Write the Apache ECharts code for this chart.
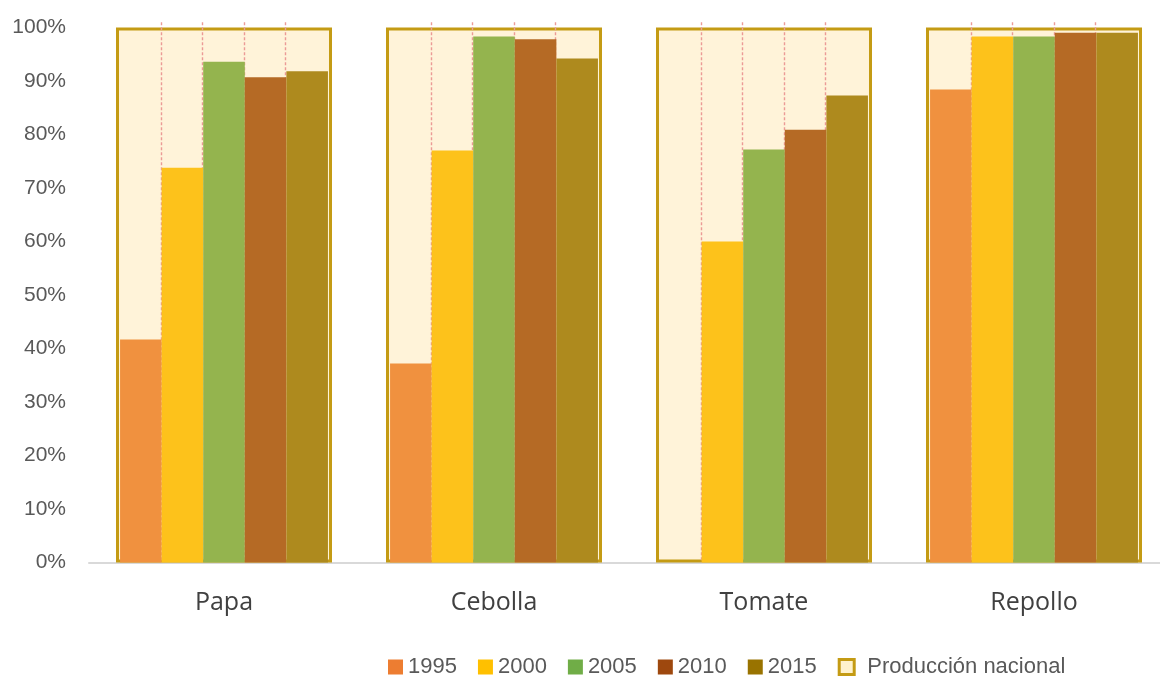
<!DOCTYPE html>
<html>
<head>
<meta charset="utf-8">
<script src="https://cdn.jsdelivr.net/npm/echarts@6/dist/echarts.min.js"></script>
<style>
  html, body { margin: 0; padding: 0; background: #fff; overflow: hidden; }
  /* the plot runs slightly past the right edge of the window */
  #chart { width: 1170px; height: 677px; }
</style>
</head>
<body>
<div id="chart"></div>
<script>
// Share (%) of supply by crop and year
const categories = ['Papa', 'Cebolla', 'Tomate', 'Repollo'];
const years = ['1995', '2000', '2005', '2010', '2015'];
const v1995 = [41.7, 37.2, 0, 88.4];
const v2000 = [73.8, 77.0, 60.0, 98.3];
const v2005 = [93.6, 98.3, 77.2, 98.3];
const v2010 = [90.7, 97.8, 80.9, 99.0];
const v2015 = [91.8, 94.2, 87.3, 99.0];
const nacional = [100, 100, 100, 100];
const yTicks = [0, 10, 20, 30, 40, 50, 60, 70, 80, 90, 100];

const yearValues = [v1995, v2000, v2005, v2010, v2015];
const barColors = ['#F0913F', '#FDC21B', '#94B44E', '#B56A25', '#AE8A1E'];
const legendColors = ['#ED7D31', '#FFC000', '#70AD47', '#9E480E', '#997300'];
const BAR_GAP = 0.23;

const chart = echarts.init(document.getElementById('chart'));

const yearSeries = years.map((y, i) => ({
  name: y,
  type: 'bar',
  xAxisIndex: 0,
  data: yearValues[i],
  barGap: '0%',
  barCategoryGap: (BAR_GAP * 100) + '%',
  itemStyle: { color: barColors[i] },
  z: 3,
  animation: false
}));

// dashed separators between the year slots, drawn over the national box
const separators = {
  type: 'custom',
  xAxisIndex: 0,
  silent: true,
  z: 2,
  data: categories.map((c, i) => [i]),
  renderItem: function (params, api) {
    const idx = api.value(0);
    const base = api.coord([idx, 0]);
    const top = api.coord([idx, 101]);
    const band = api.size([1, 0])[0];
    const total = band * (1 - BAR_GAP);
    const w = total / years.length;
    const start = base[0] - total / 2;
    const children = [];
    for (let k = 1; k < years.length; k++) {
      const x = Math.round(start + k * w) - 0.5;
      children.push({
        type: 'line',
        shape: { x1: x, y1: top[1], x2: x, y2: base[1] },
        style: { stroke: '#EC9A96', lineWidth: 1.4, lineDash: [3, 2] }
      });
    }
    return { type: 'group', children: children };
  },
  animation: false
};

const nacionalSeries = {
  name: 'Producción nacional',
  type: 'bar',
  xAxisIndex: 1,
  data: nacional,
  barCategoryGap: '20%',
  itemStyle: { color: '#FFF3D9', borderColor: '#C49B14', borderWidth: 3 },
  z: 1,
  animation: false
};

const legendData = years.map((y, i) => ({ name: y, itemStyle: { color: legendColors[i] } }));
legendData.push({
  name: 'Producción nacional',
  itemStyle: { color: '#FFF2CC', borderColor: '#C49B14', borderWidth: 3 }
});

chart.setOption({
  backgroundColor: '#ffffff',
  animation: false,
  grid: { left: 89, right: 1, top: 27.5, bottom: 114.5, containLabel: false },
  legend: {
    data: legendData,
    left: 388,
    top: 656,
    padding: 0,
    itemWidth: 15,
    itemHeight: 15,
    itemGap: 21,
    icon: 'rect',
    textStyle: {
      color: '#595959',
      fontFamily: 'Liberation Sans',
      fontSize: 22,
      rich: { p: { color: '#595959', fontFamily: 'Liberation Sans', fontSize: 22, padding: [0, 0, 0, 8] } }
    },
    formatter: function (name) {
      return name === 'Producción nacional' ? '{p|' + name + '}' : name;
    }
  },
  xAxis: [
    {
      type: 'category',
      data: categories,
      axisLine: { show: true, lineStyle: { color: '#D9D9D9', width: 2 } },
      axisTick: { show: false },
      axisLabel: {
        color: '#404040',
        fontFamily: 'Open Sans',
        fontSize: 25,
        margin: 28
      }
    },
    {
      type: 'category',
      data: categories,
      show: false
    }
  ],
  yAxis: {
    type: 'value',
    min: yTicks[0],
    max: yTicks[yTicks.length - 1],
    interval: 10,
    axisLine: { show: false },
    axisTick: { show: false },
    splitLine: { show: false },
    axisLabel: {
      color: '#595959',
      fontFamily: 'Liberation Sans',
      fontSize: 21,
      margin: 23,
      formatter: '{value}%'
    }
  },
  series: [nacionalSeries, separators].concat(yearSeries)
});
</script>
</body>
</html>
